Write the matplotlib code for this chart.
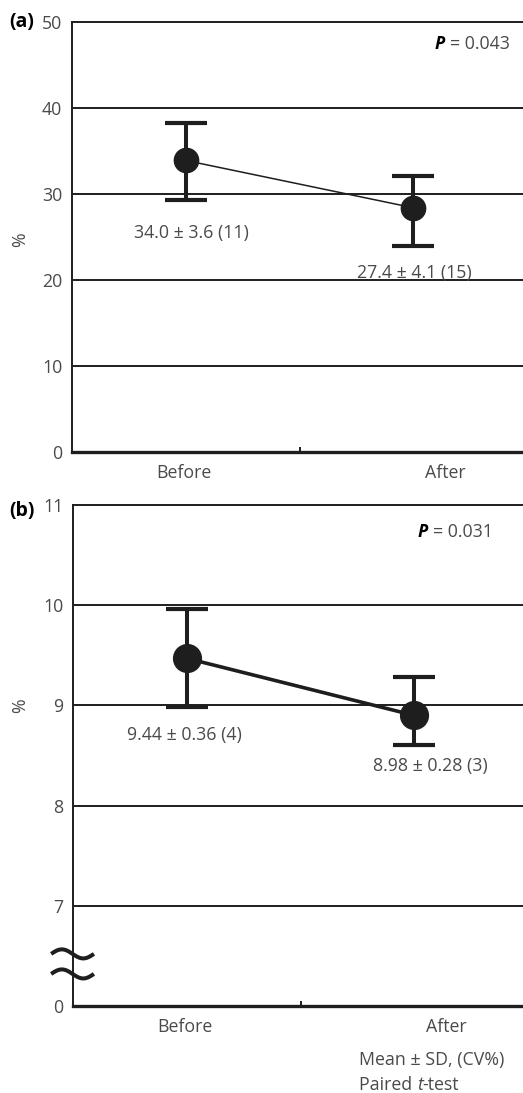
import numpy as np
import matplotlib
matplotlib.use("Agg")
import matplotlib.pyplot as plt
import matplotlib.transforms as mtransforms

# ---------------- data ----------------
categories = ["Before", "After"]

a_mean = [33.9, 28.4]
a_upper = [38.2, 32.1]
a_lower = [29.3, 23.9]
a_labels = ["34.0 \u00b1 3.6 (11)", "27.4 \u00b1 4.1 (15)"]
a_p = "0.043"
a_yticks = [0, 10, 20, 30, 40, 50]

b_mean = [9.47, 8.90]
b_upper = [9.96, 9.28]
b_lower = [8.98, 8.60]
b_labels = ["9.44 \u00b1 0.36 (4)", "8.98 \u00b1 0.28 (3)"]
b_p = "0.031"
b_yticks = [6, 7, 8, 9, 10, 11]
b_yticklabels = ["0", "7", "8", "9", "10", "11"]

footnote = "Mean \u00b1 SD, (CV%)"

# ---------------- style ----------------
plt.rcParams["font.family"] = ["Open Sans", "DejaVu Sans"]
GRAY = "#4a4a4a"
INK = "#1e1e1e"
FS = 12.8
W, H = 523, 1093
fig = plt.figure(figsize=(W / 100, H / 100), dpi=100)


def px_axes(left, top, right, bottom):
    return fig.add_axes([left / W, 1 - bottom / H, (right - left) / W, (bottom - top) / H])


def style_axes(ax, ylim, yticks, yticklabels, grid_vals):
    ax.set_xlim(0, 2)
    ax.set_ylim(*ylim)
    for g in grid_vals:
        ax.axhline(g, color=INK, lw=1.4, zorder=1)
    ax.spines["right"].set_visible(False)
    ax.spines["top"].set_linewidth(1.4)
    ax.spines["top"].set_color(INK)
    ax.spines["left"].set_linewidth(1.4)
    ax.spines["left"].set_color(INK)
    ax.spines["bottom"].set_linewidth(2.4)
    ax.spines["bottom"].set_color(INK)
    ax.set_yticks(yticks)
    ax.set_yticklabels(yticklabels)
    ax.tick_params(axis="y", length=0, pad=7, labelsize=FS, labelcolor=GRAY)
    ax.set_xticks([1])
    ax.set_xticklabels([""])
    ax.tick_params(axis="x", which="major", direction="in", length=3.5, width=1.4, color=INK)
    ax.set_xticks([0.49, 1.64], minor=True)
    ax.set_xticklabels(categories, minor=True)
    ax.tick_params(axis="x", which="minor", length=0, pad=9, labelsize=FS, labelcolor=GRAY)


def draw_series(ax, mean, upper, lower, line_w, msize):
    x = np.array([0.5, 1.5])
    mean = np.array(mean)
    yerr = np.vstack([mean - np.array(lower), np.array(upper) - mean])
    ax.plot(x, mean, color=INK, lw=line_w, zorder=3)
    ax.errorbar(x, mean, yerr=yerr, fmt="none", ecolor=INK, elinewidth=2.9,
                capsize=15, capthick=3.0, zorder=4)
    ax.plot(x, mean, "o", color=INK, ms=msize, zorder=5)


def p_text(ax, xr, y, val):
    t = ax.text(xr, y, "= " + val, transform=ax.transAxes, ha="right", va="center",
                fontsize=FS, color=GRAY)
    ax.annotate("P ", xy=(0, 0), xycoords=t, ha="right", va="bottom",
                fontsize=FS, fontweight="bold", fontstyle="italic", color="black")


# ---------------- panel (a) ----------------
ax1 = px_axes(72, 22, 527, 452)
style_axes(ax1, (0, 50), a_yticks, [str(v) for v in a_yticks], [10, 20, 30, 40])
draw_series(ax1, a_mean, a_upper, a_lower, 1.1, 17.5)
ax1.text(0.525, 25.5, a_labels[0], ha="center", va="center", fontsize=FS, color=GRAY)
ax1.text(1.506, 20.8, a_labels[1], ha="center", va="center", fontsize=FS, color=GRAY)
p_text(ax1, 0.963, 0.949, a_p)
fig.text(9 / W, 1 - 22 / H, "(a)", ha="left", va="center", fontsize=14,
         fontweight="bold", color="black")
fig.text(20 / W, 1 - 240 / H, "%", ha="center", va="center", rotation=90,
         fontsize=FS, color=GRAY)

# ---------------- panel (b) ----------------
ax2 = px_axes(73, 505, 528, 1006)
style_axes(ax2, (6, 11), b_yticks, b_yticklabels, [7, 8, 9, 10])
draw_series(ax2, b_mean, b_upper, b_lower, 2.6, 20)
ax2.text(0.491, 8.70, b_labels[0], ha="center", va="center", fontsize=FS, color=GRAY)
ax2.text(1.57, 8.40, b_labels[1], ha="center", va="center", fontsize=FS, color=GRAY)
p_text(ax2, 0.923, 0.946, b_p)
fig.text(9 / W, 1 - 511 / H, "(b)", ha="left", va="center", fontsize=14,
         fontweight="bold", color="black")
fig.text(20 / W, 1 - 706 / H, "%", ha="center", va="center", rotation=90,
         fontsize=FS, color=GRAY)

# axis break marks on (b)
trans = mtransforms.blended_transform_factory(ax2.transAxes, ax2.transData)
tt = np.linspace(0, 1, 80)
bx = -0.048 + 0.094 * tt
for yc in (6.52, 6.32):
    by = yc + 0.045 * np.sin(2 * np.pi * tt)
    ax2.plot(bx, by, color=INK, lw=2.9, transform=trans, clip_on=False,
             solid_capstyle="butt", zorder=6)

# footnote
fig.text(359 / W, 1 - 1060 / H, footnote, ha="left", va="center", fontsize=FS, color=GRAY)
t1 = fig.text(359 / W, 1 - 1085 / H, "Paired ", ha="left", va="center", fontsize=FS, color=GRAY)
a1 = plt.annotate("t", xy=(1, 0), xycoords=t1, ha="left", va="bottom", fontsize=FS,
                  color=GRAY, fontstyle="italic", annotation_clip=False)
plt.annotate("-test", xy=(1, 0), xycoords=a1, ha="left", va="bottom", fontsize=FS,
             color=GRAY, annotation_clip=False)

fig.savefig("out.png", dpi=100)
